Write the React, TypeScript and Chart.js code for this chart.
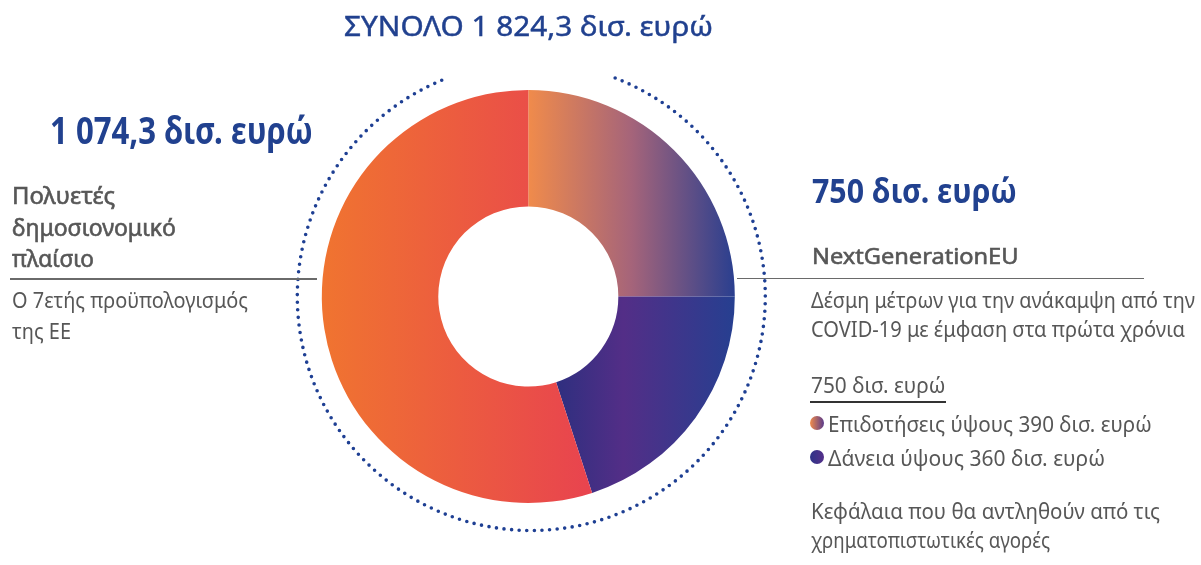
import React, { useEffect, useLayoutEffect, useRef } from "react";
import { Chart, registerables } from "chart.js";

Chart.register(...registerables);

// ---- data ----
const sliceLabels = ["Επιδοτήσεις", "Δάνεια", "Πολυετές δημοσιονομικό πλαίσιο"];
// share of the ring each slice occupies, as drawn in the figure (%)
const sliceShares = [25, 20, 55];
const amounts = { total: "1 824,3", mff: "1 074,3", ngeu: "750", grants: "390", loans: "360" };
const unit = "δισ. ευρώ";

// ---- style ----
const BLUE = "#21418F";
const GRAY = "#575757";
const FONT = "'Noto Sans', 'Open Sans', sans-serif";
const CX = 528.3;
const CY = 296.5;
const R = 206.5;
const W = 1201;
const H = 565;

type TextItem = { text: string; x: number; y: number; w: number; size: number; weight: number; color: string; stroke?: number };

const texts: TextItem[] = [
  { text: `ΣΥΝΟΛΟ ${amounts.total} ${unit}`, x: 344, y: 36, w: 369, size: 28, weight: 400, color: BLUE, stroke: 0.45 },
  { text: `${amounts.mff} ${unit}`, x: 50, y: 144, w: 263, size: 37, weight: 700, color: BLUE },
  { text: "Πολυετές", x: 12, y: 204.3, w: 103, size: 23.5, weight: 400, color: GRAY, stroke: 0.6 },
  { text: "δημοσιονομικό", x: 12, y: 235.5, w: 164, size: 23.5, weight: 400, color: GRAY, stroke: 0.6 },
  { text: "πλαίσιο", x: 12, y: 266.7, w: 82, size: 23.5, weight: 400, color: GRAY, stroke: 0.6 },
  { text: "Ο 7ετής προϋπολογισμός", x: 11.7, y: 308.3, w: 236, size: 22, weight: 400, color: GRAY },
  { text: "της ΕΕ", x: 11.7, y: 339.3, w: 59, size: 22, weight: 400, color: GRAY },
  { text: `${amounts.ngeu} ${unit}`, x: 811.7, y: 203.3, w: 205, size: 33.6, weight: 700, color: BLUE },
  { text: "NextGenerationEU", x: 811.7, y: 264.3, w: 206.5, size: 22.4, weight: 400, color: GRAY, stroke: 0.6 },
  { text: "Δέσμη μέτρων για την ανάκαμψη από την", x: 811, y: 308.3, w: 384, size: 21, weight: 400, color: GRAY },
  { text: "COVID-19 με έμφαση στα πρώτα χρόνια", x: 811, y: 336.7, w: 374, size: 21, weight: 400, color: GRAY },
  { text: `${amounts.ngeu} ${unit}`, x: 810.7, y: 393.3, w: 134.3, size: 21, weight: 400, color: GRAY },
  { text: `Επιδοτήσεις ύψους ${amounts.grants} ${unit}`, x: 828, y: 431.7, w: 323.7, size: 21, weight: 400, color: GRAY },
  { text: `Δάνεια ύψους ${amounts.loans} ${unit}`, x: 828, y: 466, w: 277, size: 21, weight: 400, color: GRAY },
  { text: "Κεφάλαια που θα αντληθούν από τις", x: 811, y: 519.3, w: 349, size: 21, weight: 400, color: GRAY },
  { text: "χρηματοπιστωτικές αγορές", x: 811, y: 547.7, w: 239, size: 21, weight: 400, color: GRAY },
];

function Label({ t }: { t: TextItem }) {
  const boxRef = useRef<HTMLDivElement>(null);
  const markRef = useRef<HTMLSpanElement>(null);
  const textRef = useRef<HTMLSpanElement>(null);
  useLayoutEffect(() => {
    const fit = () => {
      const box = boxRef.current, mark = markRef.current, txt = textRef.current;
      if (!box || !mark || !txt) return;
      box.style.top = "0px";
      box.style.transform = "none";
      const b = mark.getBoundingClientRect().top - box.getBoundingClientRect().top;
      const w = txt.getBoundingClientRect().width;
      box.style.top = `${t.y - b}px`;
      if (w > 0) box.style.transform = `scaleX(${t.w / w})`;
    };
    fit();
    if ((document as any).fonts?.ready) (document as any).fonts.ready.then(fit);
  }, [t]);
  return (
    <div
      ref={boxRef}
      style={{
        position: "absolute",
        left: t.x,
        top: 0,
        whiteSpace: "nowrap",
        fontFamily: FONT,
        fontSize: t.size,
        fontWeight: t.weight,
        color: t.color,
        lineHeight: "normal",
        transformOrigin: "0 0",
        WebkitTextStroke: t.stroke ? `${t.stroke}px ${t.color}` : undefined,
      }}
    >
      <span ref={markRef} style={{ display: "inline-block", width: 0, height: 0 }} />
      <span ref={textRef}>{t.text}</span>
    </div>
  );
}

const dottedRing = {
  id: "dottedRing",
  afterDatasetsDraw(chart: any) {
    const c = chart.ctx;
    const a = chart.chartArea;
    const cx = (a.left + a.right) / 2 + 3;
    const cy = (a.top + a.bottom) / 2;
    const deg = Math.PI / 180;
    c.save();
    c.beginPath();
    c.arc(cx, cy, 234, (21 - 90) * deg, (339 - 90) * deg);
    c.setLineDash([0, 7.6]);
    c.lineCap = "round";
    c.lineWidth = 3.6;
    c.strokeStyle = "#1E3F93";
    c.stroke();
    c.restore();
  },
};

function sliceColor(ctx: any) {
  const chart = ctx.chart;
  const a = chart.chartArea;
  if (!a) return "#E8574A";
  const c = chart.ctx as CanvasRenderingContext2D;
  const cx = (a.left + a.right) / 2;
  const i = ctx.dataIndex;
  if (i === 0) {
    const g = c.createLinearGradient(cx, 0, cx + R, 0);
    g.addColorStop(0, "#F08B4B");
    g.addColorStop(0.5, "#A5647A");
    g.addColorStop(1, "#2A3F8F");
    return g;
  }
  if (i === 1) {
    const g = c.createLinearGradient(cx + 27, 0, cx + R, 0);
    g.addColorStop(0, "#2E2F7F");
    g.addColorStop(0.38, "#532E87");
    g.addColorStop(1, "#263F90");
    return g;
  }
  const g = c.createLinearGradient(cx - R, 0, cx + 65, 0);
  g.addColorStop(0, "#F07430");
  g.addColorStop(1, "#E8434F");
  return g;
}

export default function App() {
  const canvasRef = useRef<HTMLCanvasElement>(null);

  useEffect(() => {
    const canvas = canvasRef.current;
    if (!canvas) return;
    const chart = new Chart(canvas, {
      type: "doughnut",
      data: {
        labels: sliceLabels,
        datasets: [
          {
            data: sliceShares,
            backgroundColor: sliceColor as any,
            borderWidth: 0,
            hoverOffset: 0,
          },
        ],
      },
      options: {
        responsive: false,
        animation: false,
        events: [],
        radius: R,
        cutout: "43.6%",
        layout: { padding: { left: 0, right: W - 2 * CX, top: 2 * CY - H, bottom: 0 } },
        plugins: { legend: { display: false }, tooltip: { enabled: false } },
      } as any,
      plugins: [dottedRing],
    });
    return () => chart.destroy();
  }, []);

  return (
    <div style={{ position: "absolute", left: 0, top: 0, width: W, height: H, background: "#fff", overflow: "hidden" }}>
      <canvas ref={canvasRef} width={W} height={H} style={{ position: "absolute", left: 0, top: 0, width: W, height: H }} />
      {/* separator lines */}
      <div style={{ position: "absolute", left: 10, top: 278.3, width: 307, height: 1.5, background: "#6A6A6A" }} />
      <div style={{ position: "absolute", left: 737, top: 277.6, width: 407, height: 1.5, background: "#6A6A6A" }} />
      <div style={{ position: "absolute", left: 810, top: 401, width: 136, height: 1.5, background: "#333" }} />
      {/* legend markers */}
      <div style={{ position: "absolute", left: 809.7, top: 416.3, width: 14, height: 14, borderRadius: "50%", background: "linear-gradient(90deg, #F08B4B, #5A3A8A)" }} />
      <div style={{ position: "absolute", left: 809.7, top: 449.7, width: 14, height: 14, borderRadius: "50%", background: "linear-gradient(90deg, #2E3388, #55308A)" }} />
      {texts.map((t, i) => (
        <Label key={i} t={t} />
      ))}
    </div>
  );
}
